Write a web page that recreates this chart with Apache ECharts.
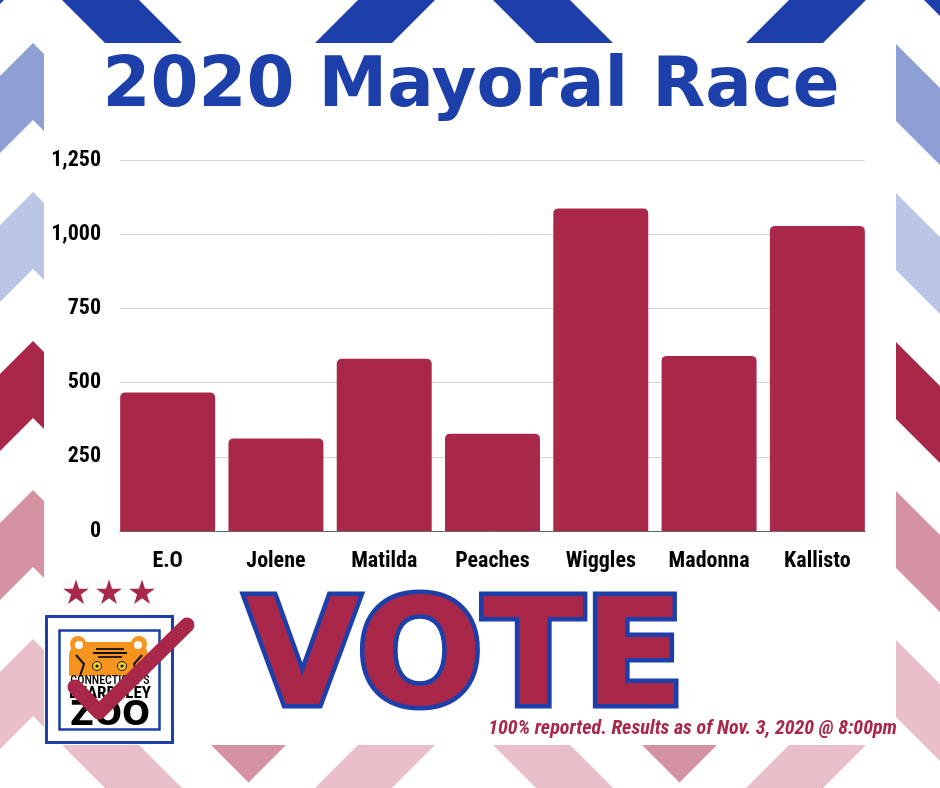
<!DOCTYPE html>
<html><head><meta charset="utf-8">
<script src="https://cdn.jsdelivr.net/npm/echarts@6/dist/echarts.min.js"></script>
<style>html,body{margin:0;padding:0;background:#fff}#c{width:940px;height:788px}</style>
</head><body><div id="c"></div>
<script>
// ---- data ----
const categories = ['E.O', 'Jolene', 'Matilda', 'Peaches', 'Wiggles', 'Madonna', 'Kallisto'];
const votes = [467, 312, 580, 328, 1087, 590, 1028];
const yTicks = [0, 250, 500, 750, 1000, 1250];
const titleText = '2020 Mayoral Race';
const voteText = 'VOTE';
const footnote = '100% reported. Results as of Nov. 3, 2020 @ 8:00pm';
const logoLines = ["CONNECTICUT'S", 'BEARDSLEY', 'ZOO'];

// ---- styling ----
const RED = '#A9284A', BLUE = '#1D3FAA';
const COND = "'Roboto Condensed', 'Open Sans Condensed', sans-serif";
const chevronColors = [BLUE, '#8D9FD4', '#BAC5E6', RED, '#D592A2', '#E8BFC8'];

function chevronRow(yTop, color) {
  const up = [], low = [];
  for (let i = -4; i <= 10; i++) {
    const x = 33 + 215.5 * i;
    const y = yTop + (i % 2 === 0 ? 0 : 215.5);
    up.push([x, y]); low.push([x, y + 77]);
  }
  return { type: 'polygon', silent: true, z: -20, shape: { points: up.concat(low.reverse()) }, style: { fill: color } };
}
function starPts(cx, cy, R) {
  const r = R * 0.382, p = [];
  for (let k = 0; k < 10; k++) {
    const a = -Math.PI / 2 + k * Math.PI / 5, rr = k % 2 ? r : R;
    p.push([cx + rr * Math.cos(a), cy + rr * Math.sin(a)]);
  }
  return p;
}

const graphics = [];
chevronColors.forEach((c, i) => graphics.push(chevronRow(-106 + 149 * i, c)));
graphics.push({ type: 'rect', silent: true, z: -10, shape: { x: 44, y: 43, width: 852, height: 702 }, style: { fill: '#fff' } });
// title
graphics.push({ type: 'text', z: 10, style: { text: titleText, x: 471, y: 88.5, align: 'center', verticalAlign: 'middle',
  font: 'bold 69px "DejaVu Sans"', fill: BLUE } });
// stars
[76, 109, 142].forEach(cx => graphics.push({ type: 'polygon', z: 10, shape: { points: starPts(cx, 593, 13.5) }, style: { fill: RED } }));
// logo
graphics.push({ type: 'rect', z: 10, shape: { x: 46.5, y: 616.5, width: 126, height: 126 }, style: { fill: '#fff', stroke: BLUE, lineWidth: 3 } });
graphics.push({ type: 'rect', z: 11, shape: { x: 59.5, y: 630.5, width: 100, height: 99 }, style: { fill: '#fff', stroke: BLUE, lineWidth: 2.5 } });
graphics.push({ type: 'circle', z: 12, shape: { cx: 78, cy: 644, r: 8 }, style: { fill: '#F7941D' } });
graphics.push({ type: 'circle', z: 12, shape: { cx: 139, cy: 644, r: 8 }, style: { fill: '#F7941D' } });
graphics.push({ type: 'rect', z: 12, shape: { x: 69, y: 642, width: 79, height: 34, r: [14, 14, 0, 0] }, style: { fill: '#F7941D' } });
graphics.push({ type: 'circle', z: 13, shape: { cx: 79, cy: 645, r: 4 }, style: { fill: '#fff' } });
graphics.push({ type: 'circle', z: 13, shape: { cx: 138, cy: 645, r: 4 }, style: { fill: '#fff' } });
[[96, 649, 124, 649], [93, 653, 127, 653], [98, 657, 122, 657]].forEach(l => graphics.push({ type: 'line', z: 13,
  shape: { x1: l[0], y1: l[1], x2: l[2], y2: l[3] }, style: { stroke: '#111', lineWidth: 1.8 } }));
graphics.push({ type: 'polyline', z: 13, shape: { points: [[76, 655], [84, 664], [80, 676]] }, style: { stroke: '#111', lineWidth: 2, fill: null } });
graphics.push({ type: 'polyline', z: 13, shape: { points: [[142, 655], [134, 664], [138, 676]] }, style: { stroke: '#111', lineWidth: 2, fill: null } });
[97, 122].forEach(cx => {
  graphics.push({ type: 'circle', z: 13, shape: { cx: cx, cy: 666, r: 4.5 }, style: { fill: '#F7D117', stroke: '#111', lineWidth: 1 } });
  graphics.push({ type: 'circle', z: 14, shape: { cx: cx, cy: 666, r: 1.6 }, style: { fill: '#111' } });
});
graphics.push({ type: 'text', z: 14, style: { text: logoLines[0], x: 110, y: 681, align: 'center', verticalAlign: 'middle', font: '500 12px ' + COND, fill: '#000' } });
graphics.push({ type: 'text', z: 14, style: { text: logoLines[1], x: 110, y: 694, align: 'center', verticalAlign: 'middle', font: 'bold 17px ' + COND, fill: '#000' } });
graphics.push({ type: 'text', z: 14, style: { text: logoLines[2], x: 110, y: 716, align: 'center', verticalAlign: 'middle', font: 'bold 33px "DejaVu Sans"', fill: '#000' } });
graphics.push({ type: 'polyline', z: 20, shape: { points: [[75, 687], [99, 712], [187, 625]] },
  style: { stroke: RED, lineWidth: 15, lineCap: 'round', lineJoin: 'round', fill: null } });
// VOTE
graphics.push({ type: 'text', z: 10, style: { text: voteText, x: 465, y: 666, align: 'center', verticalAlign: 'middle',
  font: 'bold 148px "DejaVu Sans"', fill: RED, stroke: BLUE, lineWidth: 9, strokeFirst: true } });
// footnote
graphics.push({ type: 'text', z: 10, style: { text: footnote, x: 897, y: 729, align: 'right', verticalAlign: 'middle',
  font: 'italic bold 20px ' + COND, fill: RED } });

const labelFont = { fontFamily: COND, fontWeight: 'bold', fontSize: 22, color: '#000' };
const chart = echarts.init(document.getElementById('c'), null, { renderer: 'canvas' });
chart.setOption({
  animation: false,
  backgroundColor: '#fff',
  graphic: graphics,
  grid: [
    { left: 120, right: 75, top: 160, bottom: 257 },
    { left: 113.5, right: 68.5, top: 160, bottom: 257 }
  ],
  xAxis: [
    { gridIndex: 0, type: 'category', data: categories, axisTick: { show: false }, axisLabel: { show: false },
      axisLine: { lineStyle: { color: '#666', width: 1 } } },
    { gridIndex: 1, type: 'category', data: categories, axisTick: { show: false }, axisLine: { show: false },
      axisLabel: Object.assign({ margin: 19, interval: 0 }, labelFont) }
  ],
  yAxis: [
    { gridIndex: 0, type: 'value', min: yTicks[0], max: yTicks[yTicks.length - 1], interval: yTicks[1] - yTicks[0],
      axisLine: { show: false }, axisTick: { show: false },
      axisLabel: Object.assign({ margin: 19, formatter: v => v.toLocaleString('en-US') }, labelFont),
      splitLine: { lineStyle: { color: '#d4d4d4', width: 1 } } },
    { gridIndex: 1, type: 'value', min: yTicks[0], max: yTicks[yTicks.length - 1], interval: yTicks[1] - yTicks[0], show: false }
  ],
  series: [{
    type: 'bar', xAxisIndex: 1, yAxisIndex: 1, data: votes, barCategoryGap: '12.3%', z: 3,
    itemStyle: { color: RED, borderRadius: [5, 5, 0, 0] }
  }]
});
</script></body></html>
